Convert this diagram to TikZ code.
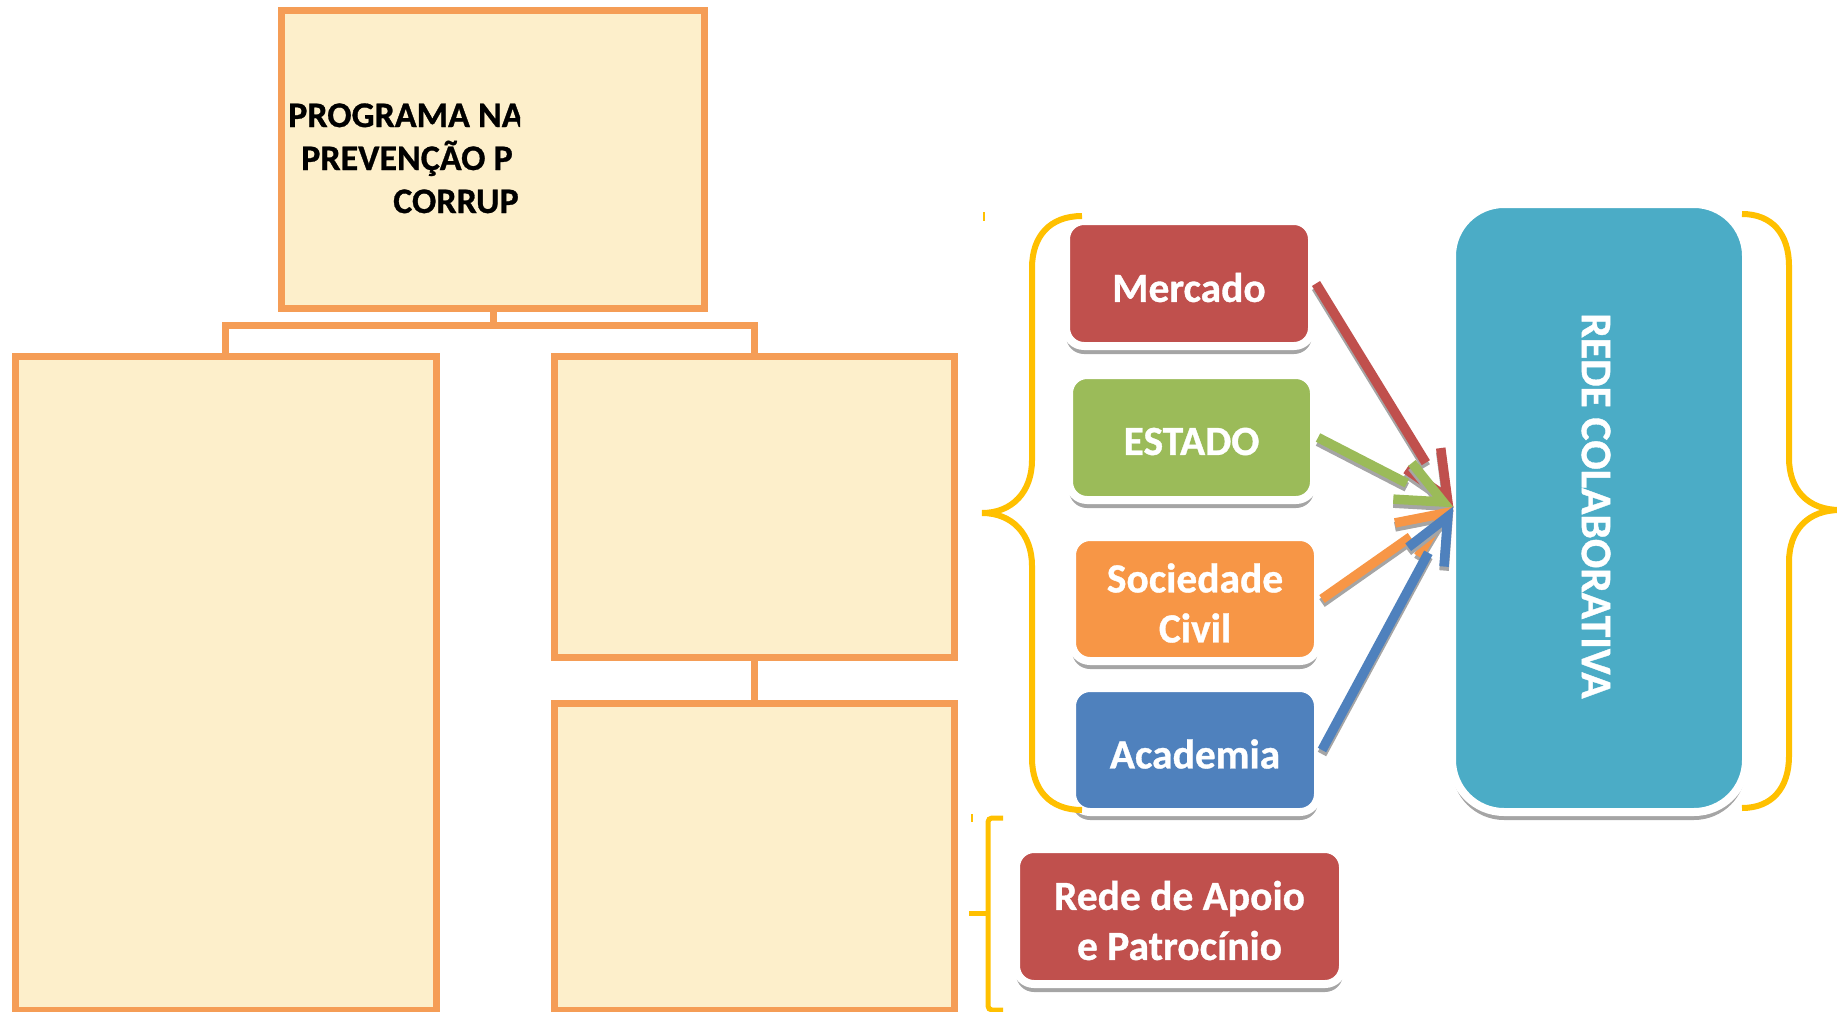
\documentclass[tikz,border=0pt]{standalone}
\usepackage{fontspec}
\usepackage{graphicx}
\setmainfont{Carlito}[BoldFeatures={FakeBold=0.8}]
\usetikzlibrary{calc,shadows}
\definecolor{orgB}{HTML}{F59D56}
\definecolor{cream}{HTML}{FDEFCB}
\definecolor{mred}{HTML}{C0504D}
\definecolor{mgreen}{HTML}{9BBB59}
\definecolor{morange}{HTML}{F79646}
\definecolor{mblue}{HTML}{4F81BD}
\definecolor{mteal}{HTML}{4BACC6}
\definecolor{myellow}{HTML}{FFC000}
\definecolor{shadowgray}{HTML}{A5A5A5}
\newcommand\flowarrow[2]{%
  \coordinate (v#1) at ($(tip)!11pt!(#1.east)$);
  \begin{scope}[transform canvas={yshift=-4pt}]
    \draw[arr,shadowgray] (#1.east) -- ($(tip)!52pt!(#1.east)$);
    \draw[arr,shadowgray] ($(v#1)!50pt!24:(#1.east)$) -- (v#1) -- ($(v#1)!50pt!-24:(#1.east)$);
  \end{scope}
  \draw[arr,#2] (#1.east) -- ($(tip)!52pt!(#1.east)$);
  \draw[arr,#2] ($(v#1)!50pt!24:(#1.east)$) -- (v#1) -- ($(v#1)!50pt!-24:(#1.east)$);
}
\begin{document}
\begin{tikzpicture}[x=1pt,y=-1pt,
  orgbox/.style={draw=orgB, fill=cream, line width=7pt, rectangle, inner sep=0pt},
  orgline/.style={draw=orgB, line width=7pt},
  smart/.style={rectangle, rounded corners=18pt, draw=white, line width=8pt, inner sep=0pt,
    drop shadow={shadow xshift=0pt, shadow yshift=-8pt, fill=shadowgray, opacity=1}},
  smarttext/.style={text=white, font=\bfseries\fontsize{41.5}{50}\selectfont, align=center, inner sep=0pt},
  brace/.style={draw=myellow, line width=6pt},
  arr/.style={line width=9.5pt, line join=miter},
  toptext/.style={anchor=base west, inner sep=0pt, font=\bfseries\fontsize{36}{43}\selectfont}
]
\useasboundingbox (0,0) rectangle (1837,1012);

% ---- organisation chart ----
\node[orgbox, minimum width=423pt, minimum height=298pt] (top) at (493,159.5) {};
\node[orgbox, minimum width=421pt, minimum height=654pt] (left) at (225.5,683) {};
\node[orgbox, minimum width=400pt, minimum height=301pt] (rt) at (754,506.5) {};
\node[orgbox, minimum width=400pt, minimum height=307pt] (rb) at (754,856.5) {};
\coordinate (bus) at (493,325);
\draw[orgline] (top.south) -- (bus);
\draw[orgline] (left.north) |- (bus) -| (rt.north);
\draw[orgline] (rt.south) -- (rb.north);

\begin{scope}
  \clip (285,14) rectangle (520,305);
  \node[toptext] (t1) at (288,127) {PROGRAMA NA};
  \node[toptext] (t2) at (301,170) {PREVENÇÃO P};
  \node[toptext] (t3) at (393,213) {CORRUP};
\end{scope}

% ---- smart boxes ----
\node[smart, fill=mred, minimum width=246pt, minimum height=125pt] (merc) at (1189,283.5) {};
\node[smart, fill=mgreen, minimum width=245pt, minimum height=125pt] (est) at (1191.5,437.5) {};
\node[smart, fill=morange, minimum width=246pt, minimum height=124pt] (soc) at (1195,599) {};
\node[smart, fill=mblue, minimum width=246pt, minimum height=124pt] (acad) at (1195,750) {};
\node[smart, fill=mred, minimum width=327pt, minimum height=135pt] (apoio) at (1179.5,916.5) {};
\node[smart, fill=mteal, rounded corners=52pt, minimum width=294pt, minimum height=608pt] (rede) at (1599,508) {};

\node[smarttext] (mercT) at ($(merc.center)+(0,4)$) {Mercado};
\node[smarttext] (estT) at ($(est.center)+(0,4)$) {ESTADO};
\node[smarttext] (socT) at ($(soc.center)+(0,4)$) {Sociedade\\Civil};
\node[smarttext] (acadT) at ($(acad.center)+(0,4)$) {Academia};
\node[smarttext] (apoioT) at ($(apoio.center)+(0,4)$) {Rede de Apoio\\e Patrocínio};
\node[smarttext, font=\bfseries\fontsize{43.5}{50}\selectfont] (redeT) at ($(rede.center)+(-3,-2)$)
      {\rotatebox{-90}{REDE COLABORATIVA}};

% ---- braces ----
\draw[brace] (1082,216) .. controls (1050,216) and (1032,236) .. (1032,268) -- (1032,460)
  .. controls (1032,492) and (1012,513) .. (982,513)
  .. controls (1012,513) and (1032,534) .. (1032,566) -- (1032,758)
  .. controls (1032,790) and (1050,810) .. (1082,810);
\draw[brace] (1742,214) .. controls (1772,214) and (1789,234) .. (1789,266) -- (1789,458)
  .. controls (1789,490) and (1808,510) .. (1840,510)
  .. controls (1808,510) and (1789,530) .. (1789,562) -- (1789,756)
  .. controls (1789,788) and (1772,808) .. (1742,808);
\draw[brace, line width=5pt, rounded corners=4pt] (1003,818) -- (988,818) -- (988,1010) -- (1003,1010);
\draw[brace, line width=5pt] (988,913) -- (969,913);
\draw[myellow, line width=2pt] (984,212) -- (984,221);
\draw[myellow, line width=2pt] (972,814) -- (972,822);

% ---- arrows ----
\coordinate (tip) at (1453,507);
\flowarrow{merc}{mred}
\flowarrow{est}{mgreen}
\flowarrow{soc}{morange}
\flowarrow{acad}{mblue}
\end{tikzpicture}
\end{document}
